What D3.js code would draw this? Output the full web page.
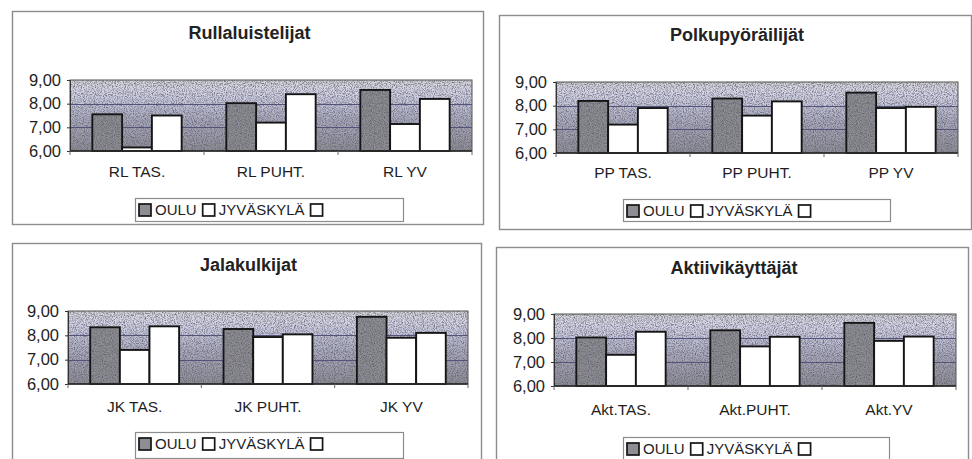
<!DOCTYPE html>
<html>
<head>
<meta charset="utf-8">
<script src="https://cdn.jsdelivr.net/npm/d3@7"></script>
<style>
  html, body { margin: 0; padding: 0; background: #fff; }
  svg { display: block; font-family: "Liberation Sans", Arial, sans-serif; }
</style>
</head>
<body>
<svg id="chart" width="972" height="459"></svg>
<script>
// Series shared by all four panels
const seriesNames = ["OULU", "JYVÄSKYLÄ", ""];
const yTicks = [6, 7, 8, 9];

// Rullaluistelijat
const rlTitle = "Rullaluistelijat";
const rlCategories = ["RL TAS.", "RL PUHT.", "RL YV"];
const rlOulu = [7.55, 8.02, 8.58];
const rlJyvaskyla = [6.15, 7.2, 7.14];
const rlThird = [7.5, 8.4, 8.2];

// Polkupyöräilijät
const ppTitle = "Polkupyöräilijät";
const ppCategories = ["PP TAS.", "PP PUHT.", "PP YV"];
const ppOulu = [8.2, 8.3, 8.55];
const ppJyvaskyla = [7.2, 7.58, 7.9];
const ppThird = [7.9, 8.18, 7.95];

// Jalakulkijat
const jkTitle = "Jalakulkijat";
const jkCategories = ["JK TAS.", "JK PUHT.", "JK YV"];
const jkOulu = [8.33, 8.26, 8.76];
const jkJyvaskyla = [7.4, 7.93, 7.9];
const jkThird = [8.37, 8.04, 8.1];

// Aktiivikäyttäjät
const aktTitle = "Aktiivikäyttäjät";
const aktCategories = ["Akt.TAS.", "Akt.PUHT.", "Akt.YV"];
const aktOulu = [8.02, 8.32, 8.63];
const aktJyvaskyla = [7.3, 7.65, 7.88];
const aktThird = [8.26, 8.05, 8.06];

const fiLocale = d3.formatLocale({ decimal: ",", thousands: " ", grouping: [3], currency: ["", " €"] });
const fmt = fiLocale.format(".2f");

const svg = d3.select("#chart");
const defs = svg.append("defs");

// Plot-area fill: pale at the top, darker grey-violet toward the base
const grad = defs.append("linearGradient")
  .attr("id", "plotFill").attr("x1", 0).attr("y1", 0).attr("x2", 0).attr("y2", 1);
[[0, "#d2d2d6"], [0.12, "#d8d8e8"], [0.28, "#cacae0"], [0.55, "#ababc0"], [1, "#8e8e97"]]
  .forEach(([o, c]) => grad.append("stop").attr("offset", o).attr("stop-color", c));

// Fine grain over the shaded areas
const grain = defs.append("filter").attr("id", "grain")
  .attr("x", 0).attr("y", 0).attr("width", 1).attr("height", 1)
  .attr("color-interpolation-filters", "sRGB");
grain.append("feTurbulence").attr("type", "fractalNoise")
  .attr("baseFrequency", 0.9).attr("numOctaves", 2).attr("seed", 4).attr("result", "noise");
grain.append("feColorMatrix").attr("in", "noise").attr("type", "matrix")
  .attr("values", "0 0 0 0 0.35  0 0 0 0 0.35  0 0 0 0 0.4  2 0 0 0 -0.8")
  .attr("result", "dots");
grain.append("feComposite").attr("in", "dots").attr("in2", "SourceGraphic").attr("operator", "in");

const seriesFill = ["#8d8d93", "#ffffff", "#ffffff"];

const panels = [
  { title: rlTitle, cats: rlCategories, values: [rlOulu, rlJyvaskyla, rlThird],
    box: [12, 11, 471, 213], titleY: 33, plot: [70, 80, 402, 71], labelY: 172, legend: [135, 198, 268, 23] },
  { title: ppTitle, cats: ppCategories, values: [ppOulu, ppJyvaskyla, ppThird],
    box: [499, 15, 472, 214], titleY: 35, plot: [556, 82, 402, 71], labelY: 173, legend: [623, 199, 267, 22] },
  { title: jkTitle, cats: jkCategories, values: [jkOulu, jkJyvaskyla, jkThird],
    box: [12, 243, 469, 230], titleY: 265, plot: [68, 311, 400, 73], labelY: 407, legend: [135, 432, 268, 26] },
  { title: aktTitle, cats: aktCategories, values: [aktOulu, aktJyvaskyla, aktThird],
    box: [496, 247, 472, 230], titleY: 268, plot: [554, 314, 402, 72], labelY: 410, legend: [623, 437, 266, 26] }
];

panels.forEach(drawPanel);

function drawPanel(p) {
  const g = svg.append("g");
  const [bx, by, bw, bh] = p.box;
  const [px, py, pw, ph] = p.plot;

  // Chart frame
  g.append("rect").attr("x", bx + 0.5).attr("y", by + 0.5).attr("width", bw).attr("height", bh)
    .attr("fill", "#fff").attr("stroke", "#8c8c8c").attr("stroke-width", 1.4);

  g.append("text").attr("x", bx + bw / 2 + 2).attr("y", p.titleY).attr("dy", "0.35em")
    .attr("text-anchor", "middle").attr("font-size", 18).attr("font-weight", "bold")
    .attr("fill", "#222").text(p.title);

  const x0 = d3.scaleBand().domain(p.cats).range([px, px + pw]);
  const x1 = d3.scaleBand().domain(d3.range(seriesNames.length))
    .range([0, x0.bandwidth()]).paddingInner(0).paddingOuter(0.75);
  const y = d3.scaleLinear().domain([6, 9]).range([py + ph, py]);

  // Plot background
  g.append("rect").attr("x", px).attr("y", py).attr("width", pw).attr("height", ph)
    .attr("fill", "url(#plotFill)");
  g.append("rect").attr("x", px).attr("y", py).attr("width", pw).attr("height", ph)
    .attr("fill", "#000").attr("filter", "url(#grain)");

  // Gridlines at the inner ticks
  g.append("g").selectAll("line").data(yTicks.filter(t => t > 6 && t < 9)).join("line")
    .attr("x1", px).attr("x2", px + pw)
    .attr("y1", d => Math.round(y(d)) + 0.5).attr("y2", d => Math.round(y(d)) + 0.5)
    .attr("stroke", "#54547a").attr("stroke-width", 1.2);

  // Bars
  const groups = g.append("g").selectAll("g").data(p.cats).join("g")
    .attr("transform", d => `translate(${x0(d)},0)`);
  groups.selectAll("rect").data((c, i) => p.values.map((vals, s) => ({ s, v: vals[i] })))
    .join("rect")
    .attr("x", d => x1(d.s)).attr("width", x1.bandwidth())
    .attr("y", d => y(d.v)).attr("height", d => y(6) - y(d.v))
    .attr("fill", d => seriesFill[d.s]).attr("stroke", "#151515").attr("stroke-width", 1.9);
  groups.selectAll("rect.grain").data((c, i) => [{ s: 0, v: p.values[0][i] }])
    .join("rect").attr("class", "grain")
    .attr("x", d => x1(d.s) + 1).attr("width", x1.bandwidth() - 2)
    .attr("y", d => y(d.v) + 1).attr("height", d => y(6) - y(d.v) - 2)
    .attr("fill", "#000").attr("filter", "url(#grain)");

  // Plot border
  g.append("rect").attr("x", px).attr("y", py).attr("width", pw).attr("height", ph)
    .attr("fill", "none").attr("stroke", "#555").attr("stroke-width", 1);

  // Value axis
  const yAxis = g.append("g").attr("transform", `translate(${px},0)`)
    .call(d3.axisLeft(y).tickValues(yTicks).tickFormat(fmt).tickSize(3).tickPadding(6));
  yAxis.select(".domain").attr("stroke", "#333");
  yAxis.selectAll(".tick line").attr("stroke", "#333");
  yAxis.selectAll(".tick text").attr("font-size", 16.5).attr("fill", "#1e1e1e")
    .attr("font-family", "'Liberation Sans', Arial, sans-serif");

  // Category axis with ticks between categories
  const xAxis = g.append("g").attr("transform", `translate(0,${py + ph})`);
  xAxis.append("line").attr("x1", px).attr("x2", px + pw).attr("stroke", "#222").attr("stroke-width", 1.5);
  xAxis.selectAll("line.tick").data(d3.range(p.cats.length + 1)).join("line").attr("class", "tick")
    .attr("x1", i => px + i * x0.step()).attr("x2", i => px + i * x0.step())
    .attr("y1", 0).attr("y2", 4).attr("stroke", "#666");
  g.append("g").selectAll("text").data(p.cats).join("text")
    .attr("x", d => x0(d) + x0.bandwidth() / 2).attr("y", p.labelY).attr("dy", "0.35em")
    .attr("text-anchor", "middle").attr("font-size", 15.5).attr("fill", "#1e1e1e").text(d => d);

  // Legend
  const [lx, ly, lw, lh] = p.legend;
  const lg = g.append("g");
  lg.append("rect").attr("x", lx + 0.5).attr("y", ly + 0.5).attr("width", lw).attr("height", lh)
    .attr("fill", "#fff").attr("stroke", "#8c8c8c").attr("stroke-width", 1.2);
  const cy = ly + 12;
  let cx = lx + 4;
  seriesNames.forEach((name, s) => {
    lg.append("rect").attr("x", cx).attr("y", cy - 6).attr("width", 12).attr("height", 12)
      .attr("fill", seriesFill[s]).attr("stroke", "#151515").attr("stroke-width", 1.7);
    const t = lg.append("text").attr("x", cx + 16).attr("y", cy).attr("dy", "0.36em")
      .attr("font-size", 15).attr("fill", "#1e1e1e").text(name);
    const tw = name ? t.node().getComputedTextLength() : 0;
    cx += 16 + tw + 6;
  });
}
</script>
</body>
</html>
